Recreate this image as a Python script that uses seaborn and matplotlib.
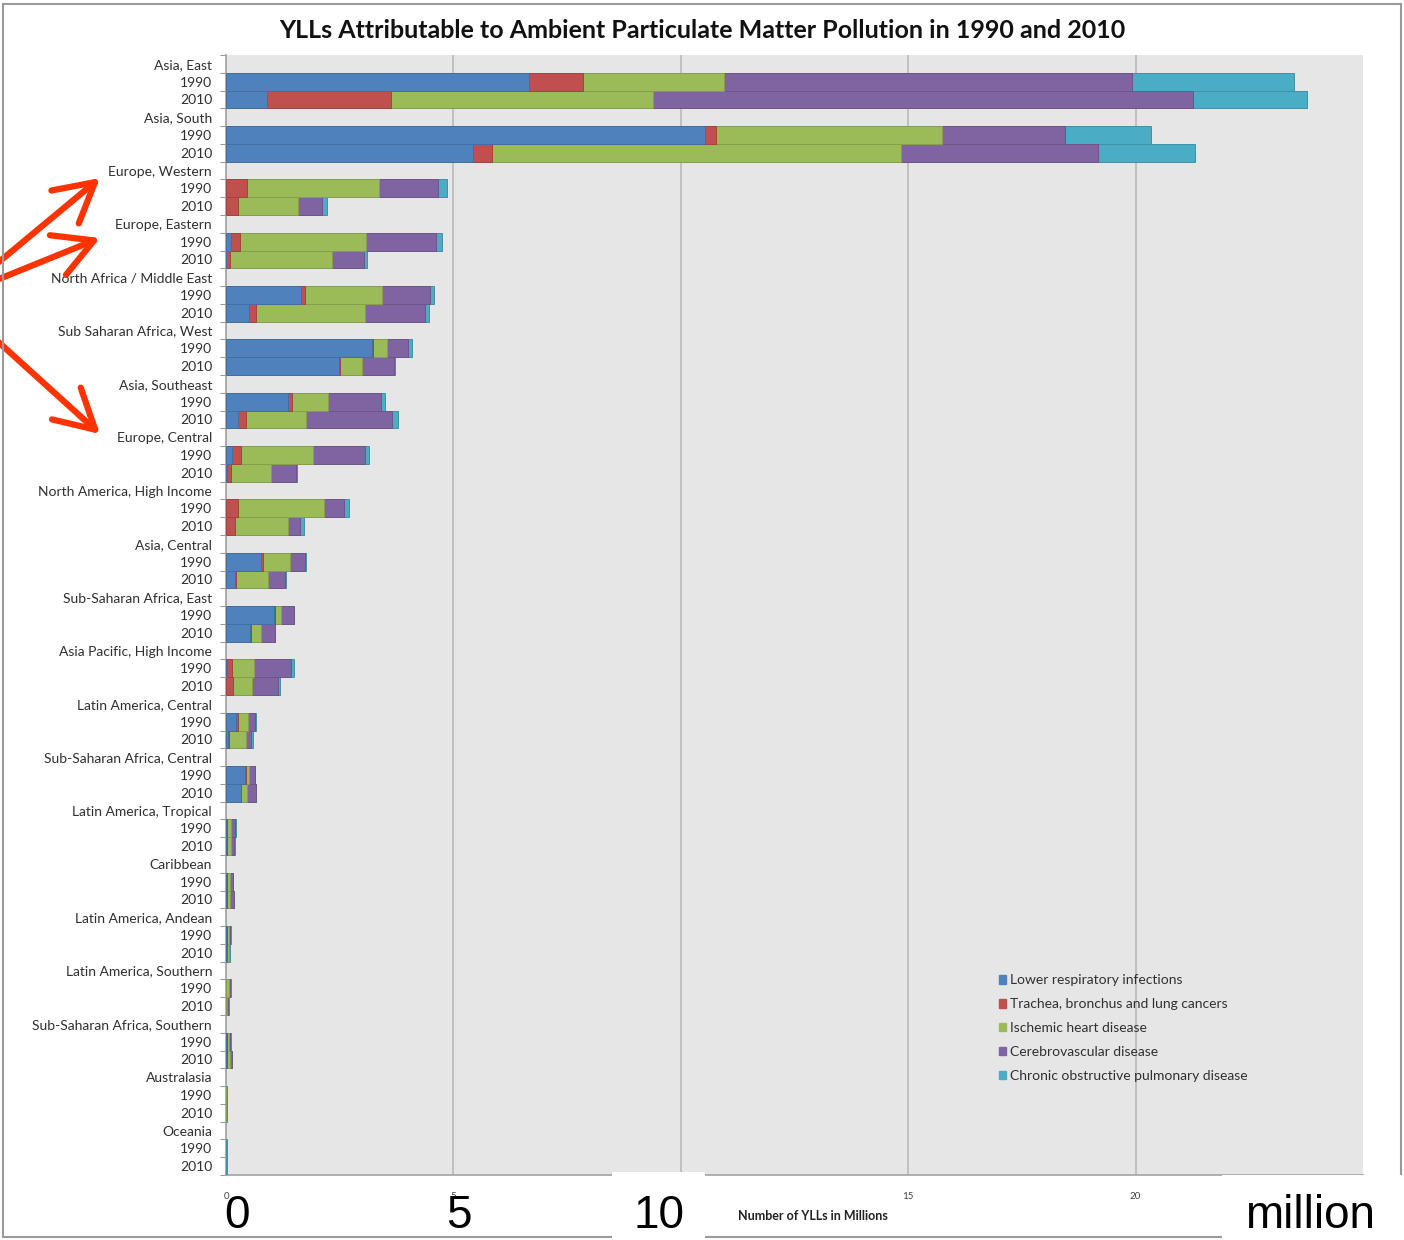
import numpy as np
import pandas as pd
import matplotlib
matplotlib.use("Agg")
import matplotlib.pyplot as plt
import seaborn as sns
from matplotlib.patches import Patch, Rectangle
from matplotlib.colors import to_rgb

sns.set_theme(style="white")
plt.rcParams["font.family"] = ["Lato", "DejaVu Sans"]

# ---- data (YLLs, millions) ----
regions = [
    "Asia, East", "Asia, South", "Europe, Western", "Europe, Eastern",
    "North Africa / Middle East", "Sub Saharan Africa, West", "Asia, Southeast",
    "Europe, Central", "North America, High Income", "Asia, Central",
    "Sub-Saharan Africa, East", "Asia Pacific, High Income", "Latin America, Central",
    "Sub-Saharan Africa, Central", "Latin America, Tropical", "Caribbean",
    "Latin America, Andean", "Latin America, Southern", "Sub-Saharan Africa, Southern",
    "Australasia", "Oceania",
]
years = ["1990", "2010"]
causes = [
    "Lower respiratory infections",
    "Trachea, bronchus and lung cancers",
    "Ischemic heart disease",
    "Cerebrovascular disease",
    "Chronic obstructive pulmonary disease",
]
cause_colors = ["#4F81BD", "#C0504D", "#9BBB59", "#8064A2", "#4BACC6"]

lri_1990 = [6.66, 10.53, 0.0, 0.10, 1.64, 3.22, 1.36, 0.13, 0.0, 0.76, 1.06, 0.02, 0.23, 0.42, 0.01, 0.01, 0.02, 0.0, 0.01, 0.0, 0.0]
lung_1990 = [1.19, 0.24, 0.47, 0.20, 0.10, 0.02, 0.10, 0.19, 0.26, 0.06, 0.01, 0.12, 0.03, 0.01, 0.01, 0.005, 0.005, 0.0, 0.01, 0.0, 0.0]
ihd_1990 = [3.10, 4.97, 2.90, 2.78, 1.70, 0.30, 0.78, 1.59, 1.89, 0.58, 0.14, 0.47, 0.23, 0.08, 0.10, 0.07, 0.03, 0.06, 0.04, 0.005, 0.0]
stroke_1990 = [8.97, 2.70, 1.29, 1.53, 1.05, 0.47, 1.16, 1.14, 0.45, 0.34, 0.28, 0.81, 0.15, 0.12, 0.07, 0.06, 0.03, 0.03, 0.03, 0.005, 0.0]
copd_1990 = [3.56, 1.89, 0.19, 0.14, 0.08, 0.07, 0.10, 0.10, 0.10, 0.02, 0.01, 0.07, 0.02, 0.01, 0.02, 0.01, 0.02, 0.02, 0.01, 0.02, 0.02]

lri_2010 = [0.90, 5.43, 0.0, 0.01, 0.50, 2.48, 0.26, 0.02, 0.0, 0.20, 0.53, 0.0, 0.05, 0.32, 0.01, 0.01, 0.02, 0.0, 0.02, 0.0, 0.0]
lung_2010 = [2.73, 0.42, 0.26, 0.07, 0.15, 0.02, 0.18, 0.10, 0.19, 0.02, 0.01, 0.15, 0.02, 0.01, 0.01, 0.005, 0.005, 0.0, 0.01, 0.0, 0.0]
ihd_2010 = [5.76, 8.99, 1.32, 2.26, 2.41, 0.50, 1.33, 0.88, 1.17, 0.71, 0.22, 0.43, 0.37, 0.14, 0.09, 0.07, 0.03, 0.03, 0.05, 0.005, 0.0]
stroke_2010 = [11.87, 4.33, 0.53, 0.70, 1.32, 0.70, 1.89, 0.53, 0.26, 0.36, 0.31, 0.57, 0.12, 0.18, 0.07, 0.08, 0.02, 0.01, 0.05, 0.005, 0.0]
copd_2010 = [2.51, 2.13, 0.10, 0.05, 0.09, 0.02, 0.13, 0.03, 0.10, 0.02, 0.01, 0.03, 0.04, 0.01, 0.02, 0.02, 0.02, 0.02, 0.01, 0.02, 0.02]

xticks = [0, 5, 10, 15, 20]

by_year = {
    "1990": [lri_1990, lung_1990, ihd_1990, stroke_1990, copd_1990],
    "2010": [lri_2010, lung_2010, ihd_2010, stroke_2010, copd_2010],
}

# ---- long table: one row per region/year, plus stacked cumulative sums ----
order, ylabels, records = [], [], []
for i, reg in enumerate(regions):
    order.append(f"r{i}")
    ylabels.append(reg)
    for yr in years:
        key = f"r{i}_{yr}"
        order.append(key)
        ylabels.append(yr)
        rec = {"key": key}
        for c, series in zip(causes, by_year[yr]):
            rec[c] = series[i]
        records.append(rec)
df = pd.DataFrame(records)
cum = df[causes].cumsum(axis=1)
for c in causes:
    df["cum_" + c] = cum[c]


def darker(col, f=0.85):
    return tuple(v * f for v in to_rgb(col))


fig = plt.figure(figsize=(14.04, 12.40), dpi=100)
ax = fig.add_axes([226 / 1404, 1 - 1175 / 1240, (1363 - 226) / 1404, (1175 - 55) / 1240])
ax.set_facecolor("#E6E6E6")

# draw the stack from the outermost cumulative segment inwards
for c, col in reversed(list(zip(causes, cause_colors))):
    sub = df[df[c] > 0]
    sns.barplot(data=sub, x="cum_" + c, y="key", order=order, orient="h",
                color=col, saturation=1, width=1.0, errorbar=None,
                edgecolor=darker(col), linewidth=0.7, ax=ax, zorder=3)

ax.set_xlim(0, 25)
ax.set_ylim(len(order) - 0.5, -0.5)
ax.set_xticks(xticks)
ax.set_xticklabels([str(t) for t in xticks], fontsize=7, color="#404040")
ax.grid(axis="x", color="#BDBDBD", linewidth=1.3, zorder=1)
ax.set_axisbelow(True)
ax.set_yticks(range(len(order)))
ax.set_yticklabels(ylabels, fontsize=10, color="#303030")
ax.set_yticks(np.arange(-0.5, len(order), 1), minor=True)
ax.tick_params(axis="y", which="major", length=0, pad=10)
ax.tick_params(axis="y", which="minor", length=4, color="#9A9A9A", width=0.8, left=True)
ax.tick_params(axis="x", which="major", length=0, pad=12)
ax.set_xlabel("")
ax.set_ylabel("")
for side in ["top", "right"]:
    ax.spines[side].set_visible(False)
ax.spines["left"].set_color("#A6A6A6")
ax.spines["bottom"].set_color("#A6A6A6")

fig.text(0.5, 1 - 31 / 1240, "YLLs Attributable to Ambient Particulate Matter Pollution in 1990 and 2010",
         ha="center", va="center", fontsize=18, fontweight="bold", color="#111111")
fig.text(813 / 1404, 1 - 1216 / 1240, "Number of YLLs in Millions", ha="center", va="center",
         fontsize=9, fontweight="bold", color="#222222")

handles = [Patch(facecolor=col, edgecolor=col) for col in cause_colors]
fig.legend(handles, causes, loc="upper left", bbox_to_anchor=(986 / 1404, 1 - 962 / 1240),
           frameon=False, fontsize=10, handlelength=0.55, handleheight=0.55,
           handletextpad=0.3, labelspacing=0.85, labelcolor="#303030")

# outer frame
fig.add_artist(Rectangle((3 / 1404, 1 - 1237 / 1240), 1398 / 1404, 1233 / 1240,
                         transform=fig.transFigure, fill=False, edgecolor="#9A9A9A",
                         linewidth=1.5, zorder=4))

# large scale labels along the bottom
for x0, x1, y0 in [(612, 705, 1172), (1222, 1404, 1175)]:
    fig.add_artist(Rectangle((x0 / 1404, 0), (x1 - x0) / 1404, (1240 - y0) / 1240,
                             transform=fig.transFigure, facecolor="white",
                             edgecolor="none", zorder=5))
for xc, s in [(237, "0"), (459, "5"), (659, "10"), (1310, "million")]:
    fig.text(xc / 1404, 1 - 1216 / 1240, s, ha="center", va="center", fontsize=33,
             family="Liberation Sans", color="black", zorder=6)

# pointer arrows to the European regions
arrow_kw = dict(arrowstyle="->,head_length=1.0,head_width=0.55", color="#FF3300",
                lw=4.5, mutation_scale=28, shrinkA=0, shrinkB=0)
for (sx, sy), (tx, ty) in [((-6, 266), (100, 178)), ((-6, 281), (100, 238)), ((-6, 338), (100, 434))]:
    ax.annotate("", xy=(tx, 1240 - ty), xycoords="figure pixels",
                xytext=(sx, 1240 - sy), textcoords="figure pixels",
                arrowprops=arrow_kw, annotation_clip=False)

fig.savefig("out.png", dpi=100)
